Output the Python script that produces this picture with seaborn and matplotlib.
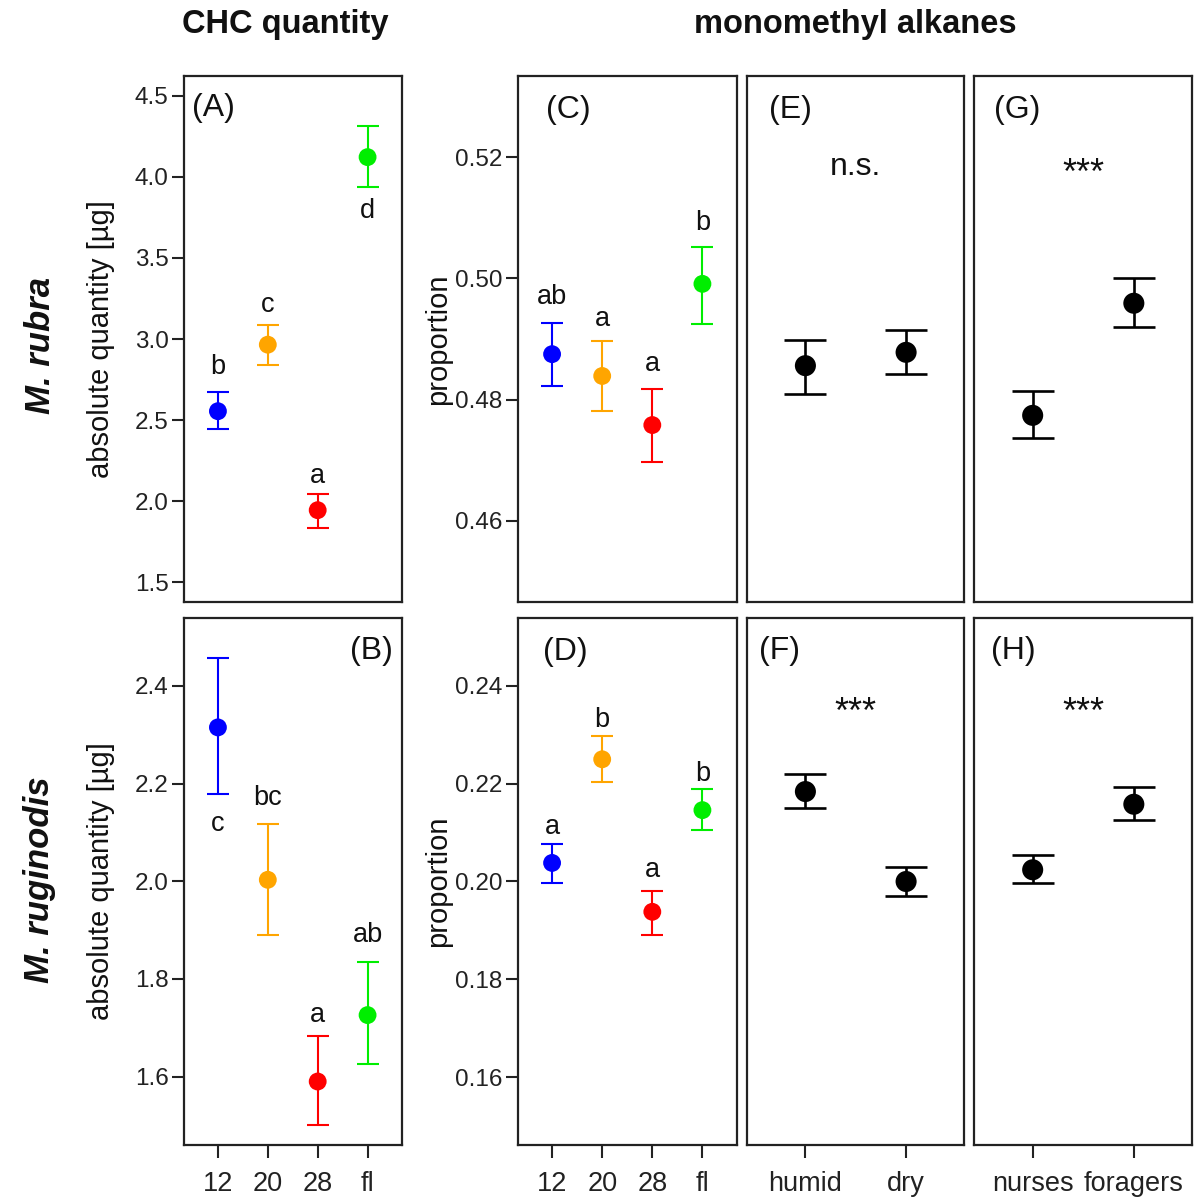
import matplotlib
matplotlib.use("Agg")
import matplotlib.pyplot as plt
import seaborn as sns
import pandas as pd

sns.set_theme(style="white")
plt.rcParams['font.family'] = ['Liberation Sans', 'DejaVu Sans']

# ---------------- data ----------------
temp_cats = ["12", "20", "28", "fl"]
temp_colors = ["#0000FF", "#FFA500", "#FF0000", "#00EE00"]
hum_cats = ["humid", "dry"]
caste_cats = ["nurses", "foragers"]

# (A) M. rubra absolute quantity
A_mean = [2.555, 2.965, 1.945, 4.121]
A_lo = [2.445, 2.839, 1.835, 3.936]
A_hi = [2.672, 3.084, 2.046, 4.315]
A_letters = ["b", "c", "a", "d"]
A_letter_y = [2.826, 3.209, 2.158, 3.787]

# (B) M. ruginodis absolute quantity
B_mean = [2.315, 2.003, 1.590, 1.726]
B_lo = [2.178, 1.890, 1.500, 1.626]
B_hi = [2.458, 2.118, 1.683, 1.834]
B_letters = ["c", "bc", "a", "ab"]
B_letter_y = [2.118, 2.170, 1.727, 1.890]

# (C) M. rubra monomethyl alkanes, temperature
C_mean = [0.4875, 0.4839, 0.4758, 0.4991]
C_lo = [0.4823, 0.4781, 0.4697, 0.4925]
C_hi = [0.4926, 0.4896, 0.4817, 0.5052]
C_letters = ["ab", "a", "a", "b"]
C_letter_y = [0.4969, 0.4933, 0.4859, 0.5091]

# (D) M. ruginodis monomethyl alkanes, temperature
D_mean = [0.2038, 0.2250, 0.1938, 0.2146]
D_lo = [0.1997, 0.2204, 0.1891, 0.2105]
D_hi = [0.2076, 0.2297, 0.1981, 0.2190]
D_letters = ["a", "b", "a", "b"]
D_letter_y = [0.2112, 0.2330, 0.2023, 0.2220]

# (E) / (F) humidity
E_mean = [0.4856, 0.4878]
E_lo = [0.4809, 0.4843]
E_hi = [0.4899, 0.4915]
F_mean = [0.2184, 0.2000]
F_lo = [0.2150, 0.1971]
F_hi = [0.2220, 0.2030]

# (G) / (H) caste
G_mean = [0.4774, 0.4959]
G_lo = [0.4736, 0.4919]
G_hi = [0.4814, 0.5001]
H_mean = [0.2024, 0.2158]
H_lo = [0.1997, 0.2125]
H_hi = [0.2055, 0.2194]

sig_E, sig_F, sig_G, sig_H = "n.s.", "***", "***", "***"
sig_top_y, sig_bot_y = 0.5190, 0.2367

A_ticks = [1.5, 2.0, 2.5, 3.0, 3.5, 4.0, 4.5]
B_ticks = [1.6, 1.8, 2.0, 2.2, 2.4]
C_ticks = [0.46, 0.48, 0.50, 0.52]
D_ticks = [0.16, 0.18, 0.20, 0.22, 0.24]

# ---------------- layout ----------------
W, H = 1194, 1197
fig = plt.figure(figsize=(W / 100, H / 100), dpi=100)
fig.patch.set_facecolor("white")


def rect(x0, x1, y0, y1):
    return [x0 / W, 1 - y1 / H, (x1 - x0) / W, (y1 - y0) / H]


top_y, bot_y = (76, 602), (618, 1145)
cols = [(184, 402), (518, 737), (747, 964), (974, 1192)]

axA = fig.add_axes(rect(*cols[0], *top_y))
axB = fig.add_axes(rect(*cols[0], *bot_y))
axC = fig.add_axes(rect(*cols[1], *top_y))
axD = fig.add_axes(rect(*cols[1], *bot_y))
axE = fig.add_axes(rect(*cols[2], *top_y))
axF = fig.add_axes(rect(*cols[2], *bot_y))
axG = fig.add_axes(rect(*cols[3], *top_y))
axH = fig.add_axes(rect(*cols[3], *bot_y))

FRAME = "#222222"
TICK_FS = 17.5
XTICK_FS = 19.5


def draw(ax, cats, mean, lo, hi, colors, msize, cap, lw):
    df = pd.DataFrame({"cat": cats, "mean": mean, "lo": lo, "hi": hi})
    for i, r in df.iterrows():
        ax.errorbar([r["cat"]], [r["mean"]],
                    yerr=[[r["mean"] - r["lo"]], [r["hi"] - r["mean"]]],
                    fmt="none", ecolor=colors[i], elinewidth=lw,
                    capsize=cap, capthick=lw, zorder=2)
    sns.scatterplot(data=df, x="cat", y="mean", hue="cat", palette=colors,
                    s=msize, edgecolor="none", legend=False, ax=ax, zorder=3)
    ax.set_xlabel("")
    ax.set_ylabel("")


def style(ax, xlim, ylim, yticks=None, show_x=False, fmt="{:.1f}"):
    ax.set_xlim(*xlim)
    ax.set_ylim(*ylim)
    for s in ax.spines.values():
        s.set_visible(True)
        s.set_color(FRAME)
        s.set_linewidth(1.6)
    ax.set_facecolor("white")
    ax.grid(False)
    if yticks is not None:
        ax.set_yticks(yticks)
        ax.set_yticklabels([fmt.format(t) for t in yticks], fontsize=TICK_FS,
                           color="#222222")
        ax.tick_params(axis="y", left=True, length=9, width=1.5,
                       color=FRAME, pad=2)
    else:
        ax.set_yticks([])
        ax.tick_params(axis="y", left=False, labelleft=False)
    if show_x:
        ax.tick_params(axis="x", bottom=True, length=9, width=1.5,
                       color=FRAME, pad=10, labelsize=XTICK_FS,
                       labelcolor="#222222")
    else:
        ax.tick_params(axis="x", bottom=False, labelbottom=False)


xl4 = (-0.68, 3.69)
xl2 = (-0.58, 1.575)

draw(axA, temp_cats, A_mean, A_lo, A_hi, temp_colors, 165, 8, 1.5)
draw(axB, temp_cats, B_mean, B_lo, B_hi, temp_colors, 165, 8, 1.5)
draw(axC, temp_cats, C_mean, C_lo, C_hi, temp_colors, 165, 8, 1.5)
draw(axD, temp_cats, D_mean, D_lo, D_hi, temp_colors, 165, 8, 1.5)
blk = ["black", "black"]
draw(axE, hum_cats, E_mean, E_lo, E_hi, blk, 230, 15, 1.9)
draw(axF, hum_cats, F_mean, F_lo, F_hi, blk, 230, 15, 1.9)
draw(axG, caste_cats, G_mean, G_lo, G_hi, blk, 230, 15, 1.9)
draw(axH, caste_cats, H_mean, H_lo, H_hi, blk, 230, 15, 1.9)

style(axA, xl4, (1.379, 4.621), A_ticks)
style(axB, xl4, (1.460, 2.539), B_ticks, show_x=True)
style(axC, xl4, (0.4466, 0.5334), C_ticks, fmt="{:.2f}")
style(axD, xl4, (0.1461, 0.2539), D_ticks, show_x=True, fmt="{:.2f}")
style(axE, xl2, (0.4466, 0.5334))
style(axF, xl2, (0.1461, 0.2539), show_x=True)
style(axG, xl2, (0.4466, 0.5334))
style(axH, xl2, (0.1461, 0.2539), show_x=True)

# group letters
LET_FS = 19.5
for ax, letters, ly in ((axA, A_letters, A_letter_y), (axB, B_letters, B_letter_y),
                        (axC, C_letters, C_letter_y), (axD, D_letters, D_letter_y)):
    for i, (t, y) in enumerate(zip(letters, ly)):
        ax.text(i, y, t, ha="center", va="center", fontsize=LET_FS,
                color="#111111")

# panel labels
PL_FS = 23
for ax, lab, px, py in ((axA, "(A)", 0.135, 0.940), (axB, "(B)", 0.862, 0.937),
                        (axC, "(C)", 0.228, 0.935), (axD, "(D)", 0.215, 0.935),
                        (axE, "(E)", 0.198, 0.935), (axF, "(F)", 0.152, 0.937),
                        (axG, "(G)", 0.200, 0.935), (axH, "(H)", 0.180, 0.937)):
    ax.text(px, py, lab, transform=ax.transAxes, ha="center", va="center",
            fontsize=PL_FS, color="#111111")

# significance
axE.text(0.5, 0.5184, sig_E, transform=axE.get_yaxis_transform(), ha="center",
         va="center", fontsize=23, color="#111111")
for ax, sig, y in ((axF, sig_F, sig_bot_y), (axG, sig_G, sig_top_y),
                   (axH, sig_H, sig_bot_y)):
    ax.annotate(sig, xy=(0.5, y), xycoords=ax.get_yaxis_transform(),
                xytext=(0, -15), textcoords="offset points", ha="center",
                va="baseline", fontsize=26, color="#111111")

# y labels
for ax, lab, xx in ((axA, "absolute quantity [µg]", -0.316), (axB, "absolute quantity [µg]", -0.316),
                    (axC, "proportion", -0.30), (axD, "proportion", -0.30)):
    ax.set_ylabel(lab, fontsize=21, color="#111111")
    ax.yaxis.set_label_coords(xx, 0.5)

# column titles
fig.text(285 / W, 1 - 25 / H, "CHC quantity", ha="center", va="center",
         fontsize=23.5, fontweight="bold", color="#111111")
fig.text(855 / W, 1 - 25 / H, "monomethyl alkanes", ha="center", va="center",
         fontsize=23.5, fontweight="bold", color="#111111")

# row labels
fig.text(40 / W, 1 - 345 / H, "M. rubra", rotation=90, ha="center", va="center",
         fontsize=25, fontweight="bold", fontstyle="italic", color="#111111")
fig.text(40 / W, 1 - 880 / H, "M. ruginodis", rotation=90, ha="center", va="center",
         fontsize=25, fontweight="bold", fontstyle="italic", color="#111111")

fig.savefig("out.png", dpi=100, facecolor="white")
